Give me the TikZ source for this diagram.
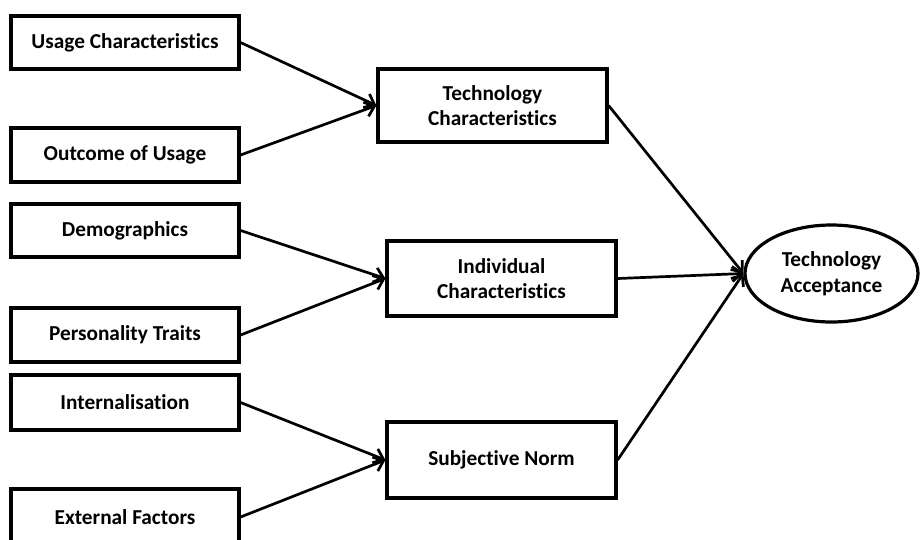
\documentclass[tikz,border=0pt]{standalone}
\usepackage{fontspec}
\setmainfont{Carlito}[Ligatures=NoCommon]
\usetikzlibrary{arrows.meta,shapes.geometric}
\begin{document}
\begin{tikzpicture}[x=1pt,y=-1pt,
  box/.style={draw=black,line width=3.2pt,rectangle,inner sep=0pt,align=center,
    font=\fontsize{21.3}{25.5}\selectfont\bfseries,text=black,fill=white},
  leftbox/.style={box,minimum width=228pt},
  midbox/.style={box,minimum width=229pt},
  ellbox/.style={box,ellipse,minimum width=173pt,minimum height=97pt},
  conn/.style={line width=2.7pt,-{Straight Barb[length=9pt,width=15pt,line width=2.7pt]}}]
\clip (0,0) rectangle (920,539);
\fill[white] (0,0) rectangle (920,539);
% left column
\node[leftbox,minimum height=53pt] (usage) at (125,42.5) {Usage Characteristics};
\node[leftbox,minimum height=54pt] (outcome) at (125,155) {Outcome of Usage};
\node[leftbox,minimum height=53pt] (demo) at (125,230.5) {Demographics};
\node[leftbox,minimum height=54pt] (pers) at (125,335) {Personality Traits};
\node[leftbox,minimum height=55pt] (intern) at (125,402.5) {Internalisation};
\node[leftbox,minimum height=56pt] (ext) at (125,517) {External Factors};
% middle column
\node[midbox,minimum height=73pt] (tech) at (492.5,105.5) {Technology\\Characteristics};
\node[midbox,minimum height=75pt] (indiv) at (501.5,278.5) {Individual\\Characteristics};
\node[midbox,minimum height=76pt] (subj) at (501.5,460) {Subjective Norm};
% right
\node[ellbox] (acc) at (831.5,273.5) {Technology\\Acceptance};
% connectors
\draw[conn] (usage.east) -- (tech.west);
\draw[conn] (outcome.east) -- (tech.west);
\draw[conn] (demo.east) -- (indiv.west);
\draw[conn] (pers.east) -- (indiv.west);
\draw[conn] (intern.east) -- (subj.west);
\draw[conn] (ext.east) -- (subj.west);
\draw[conn] (tech.east) -- (acc.west);
\draw[conn] (indiv.east) -- (acc.west);
\draw[conn] (subj.east) -- (acc.west);
\end{tikzpicture}
\end{document}
